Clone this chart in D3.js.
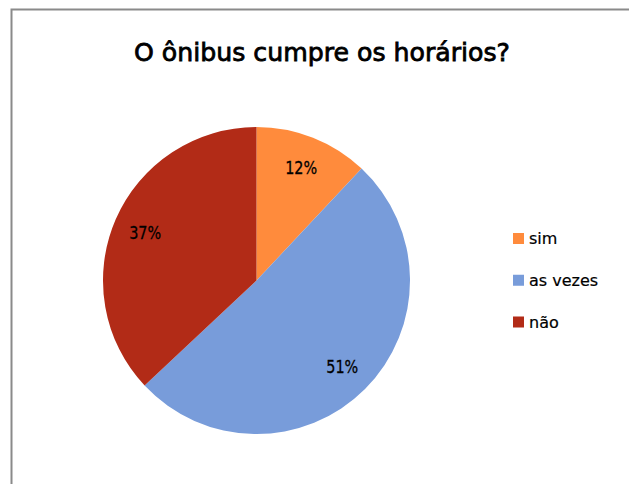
<!DOCTYPE html>
<html>
<head>
<meta charset="utf-8">
<script src="https://cdn.jsdelivr.net/npm/d3@7"></script>
<style>
  html, body { margin: 0; padding: 0; background: #fff; }
  svg { display: block; }
  text { font-family: "DejaVu Sans", sans-serif; fill: #000; }
</style>
</head>
<body>
<svg id="chart" width="629" height="484"></svg>
<script>
// Survey answers: "Does the bus keep to its timetable?"
const categories = ["sim", "as vezes", "não"];
const values = [12, 51, 37];
const colors = ["#FF8B3C", "#789CDA", "#B22B17"];
const title = "O ônibus cumpre os horários?";

const svg = d3.select("#chart");

// chart frame (only the top and left edges fall inside the view)
svg.append("rect")
  .attr("x", 11.5).attr("y", 9.5)
  .attr("width", 700).attr("height", 600)
  .attr("fill", "#fff")
  .attr("stroke", "#8a8a8a")
  .attr("stroke-width", 2);

svg.append("text")
  .attr("x", 322).attr("y", 61)
  .attr("text-anchor", "middle")
  .attr("font-size", 25)
  .attr("stroke", "#000")
  .attr("stroke-width", 0.8)
  .attr("textLength", 376)
  .attr("lengthAdjust", "spacingAndGlyphs")
  .text(title);

const cx = 256.5, cy = 280.5, r = 153.5;
const pie = d3.pie().sort(null).value(d => d)(values);
const arc = d3.arc().innerRadius(0).outerRadius(r);
const labelArc = d3.arc().innerRadius(r * 0.79).outerRadius(r * 0.79);
const total = d3.sum(values);

const g = svg.append("g").attr("transform", `translate(${cx},${cy})`);
g.selectAll("path.slice").data(pie).join("path")
  .attr("class", "slice")
  .attr("d", arc)
  .attr("fill", (d, i) => colors[i]);

g.selectAll("text.lbl").data(pie).join("text")
  .attr("class", "lbl")
  .attr("transform", d => `translate(${labelArc.centroid(d)})`)
  .attr("text-anchor", "middle")
  .attr("dy", "0.36em")
  .attr("font-size", 18)
  .attr("stroke", "#000")
  .attr("stroke-width", 0.3)
  .attr("textLength", 32)
  .attr("lengthAdjust", "spacingAndGlyphs")
  .text(d => Math.round(d.value / total * 100) + "%");

// legend
const legendY = d3.scalePoint().domain(categories).range([238.5, 322]);
const lg = svg.append("g");
categories.forEach((c, i) => {
  const y = legendY(c);
  lg.append("rect")
    .attr("x", 513).attr("y", y - 5.5)
    .attr("width", 11).attr("height", 11)
    .attr("fill", colors[i]);
  lg.append("text")
    .attr("x", 529).attr("y", y)
    .attr("dy", "0.36em")
    .attr("font-size", 16)
    .attr("stroke", "#000")
    .attr("stroke-width", 0.2)
    .text(c);
});
</script>
</body>
</html>
